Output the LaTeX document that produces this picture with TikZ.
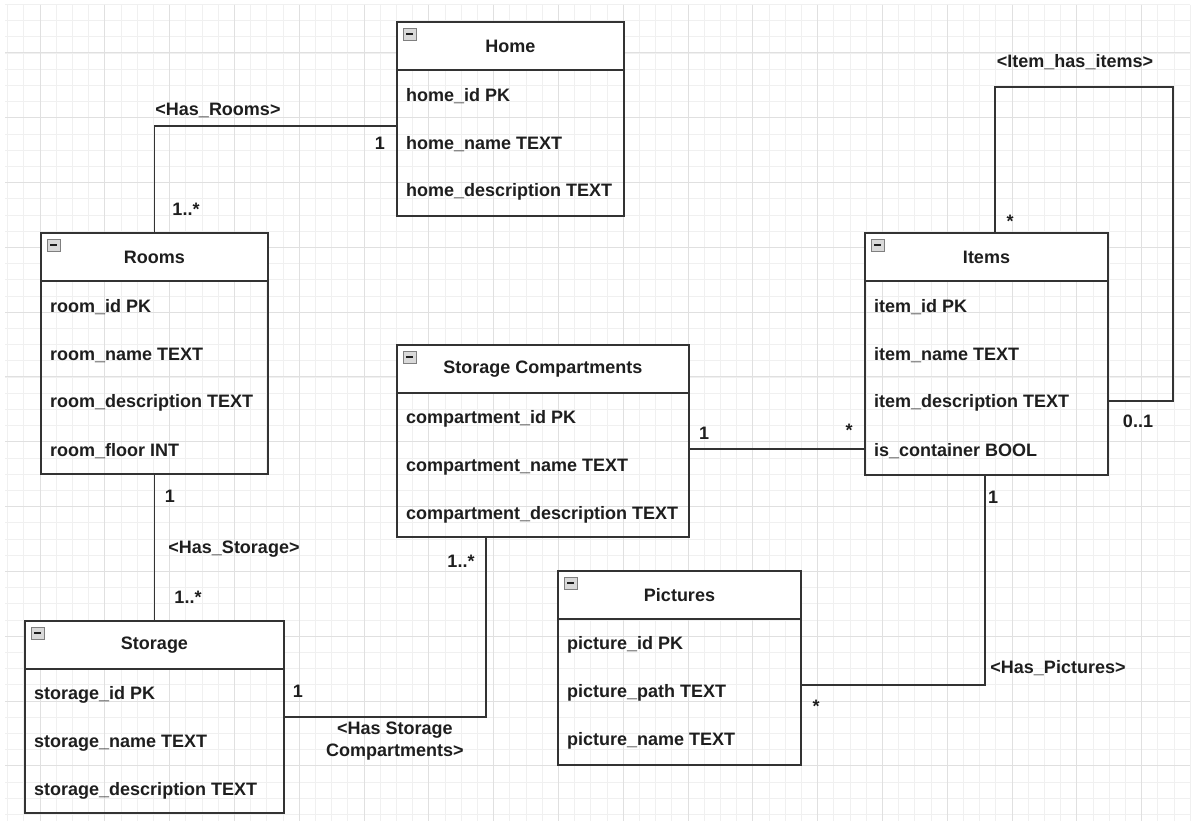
\documentclass[tikz,border=0pt]{standalone}
\usepackage{fontspec}
\setmainfont{Liberation Sans}
\usetikzlibrary{calc}

\definecolor{ink}{HTML}{1E1E1E}
\definecolor{edge}{HTML}{333333}
\definecolor{gridminor}{HTML}{F0F0F0}
\definecolor{gridmajor}{HTML}{E0E0E0}
\definecolor{iconfill}{HTML}{D9D9D9}
\definecolor{iconedge}{HTML}{7F7F7F}

\tikzset{
  txt/.style={font=\fontsize{18}{20}\selectfont\bfseries, text=ink, inner sep=0pt},
  rowtext/.style={txt, anchor=west},
  lbl/.style={txt},
  entitybox/.style={draw=edge, line width=1.5pt, inner sep=0pt, outer sep=0pt, anchor=north west},
  divider/.style={draw=edge, line width=1.5pt},
  conn/.style={draw=edge, line width=1.5pt},
  minorline/.style={draw=gridminor, line width=0.8pt},
  majorline/.style={draw=gridmajor, line width=1pt},
}

% #1 name, #2 x, #3 y, #4 width, #5 height, #6 title, #7 rows
\newcommand\entity[7]{%
  \fill[white] (#2,#3) rectangle ++(#4,48);
  \node[entitybox, minimum width=#4pt, minimum height=#5pt] (#1) at (#2,#3) {};
  \draw[divider] ($(#1.north west)+(0,48)$) -- ($(#1.north east)+(0,48)$);
  \node[txt] (#1-title) at ($(#1.north)+(0,24)$) {#6};
  \node[draw=iconedge, fill=iconfill, line width=0.8pt, minimum width=13pt, minimum height=12pt, inner sep=0pt] (#1-icon) at ($(#1.north west)+(12.5,12)$) {};
  \draw[ink, line width=1.6pt] ($(#1-icon.center)+(-3.5,0)$) -- ($(#1-icon.center)+(3.5,0)$);
  \foreach \r [count=\i] in {#7} {
    \node[rowtext] (#1-r\i) at ($(#1.north west)+(9,26+48*\i)$) {\r};
  }%
}

\begin{document}
\begin{tikzpicture}[x=1pt, y=-1pt]
  % page and background grid
  \fill[white] (0,0) rectangle (1195,826);
  \useasboundingbox (0,0) rectangle (1195,826);
  \foreach \i in {0,...,73} {\draw[minorline] ({7.6+16.2*\i},5) -- ({7.6+16.2*\i},821);}
  \foreach \j in {0,...,50} {\draw[minorline] (5,{4.4+16.2*\j}) -- (1190,{4.4+16.2*\j});}
  \foreach \i in {0,...,17} {\draw[majorline] ({40+64.8*\i},5) -- ({40+64.8*\i},821);}
  \foreach \j in {0,...,11} {\draw[majorline] (5,{53+64.8*\j}) -- (1190,{53+64.8*\j});}

  % entities
  \entity{home}{397}{22}{227}{194}{Home}{home\_id PK, home\_name TEXT, home\_description TEXT}
  \entity{rooms}{41}{233}{227}{241}{Rooms}{room\_id PK, room\_name TEXT, room\_description TEXT, room\_floor INT}
  \entity{comp}{397}{345}{292}{192}{Storage Compartments}{compartment\_id PK, compartment\_name TEXT, compartment\_description TEXT}
  \entity{items}{865}{233}{243}{242}{Items}{item\_id PK, item\_name TEXT, item\_description TEXT, is\_container BOOL}
  \entity{storage}{25}{621}{259}{192}{Storage}{storage\_id PK, storage\_name TEXT, storage\_description TEXT}
  \entity{pics}{558}{571}{243}{194}{Pictures}{picture\_id PK, picture\_path TEXT, picture\_name TEXT}

  % relationships
  \coordinate (loopcorner) at (1173,87);
  \draw[conn] ($(home.north west)+(0,104)$) -| (rooms.north);
  \draw[conn] (rooms.south) -- (storage.north);
  \draw[conn] (storage.east) -| ($(comp.south west)+(89,0)$);
  \draw[conn] ($(comp.east)+(0,8)$) -- ($(items.west)+(0,95)$);
  \draw[conn] ($(items.north)+(8.5,0)$) |- (loopcorner) |- ($(items.east)+(0,47)$);
  \draw[conn] ($(items.south)+(-1.5,0)$) |- ($(pics.east)+(0,17)$);

  % relationship names and multiplicities
  \node[lbl] (l-hasrooms) at (218,110) {<Has\_Rooms>};
  \node[lbl] (m-home) at (380,143) {1};
  \node[lbl] (m-rooms) at (186,209) {1..*};
  \node[lbl] (m-rooms2) at (170,496) {1};
  \node[lbl] (l-hasstorage) at (234,549) {<Has\_Storage>};
  \node[lbl] (m-storage) at (188,597) {1..*};
  \node[lbl] (m-storage2) at (298,691) {1};
  \node[lbl] (m-comp) at (461,561) {1..*};
  \node[lbl, align=center] (l-hascomp) at (395,741) {<Has Storage\\[2pt]Compartments>};
  \node[lbl] (m-comp2) at (704,433) {1};
  \node[lbl] (m-items) at (849,430) {*};
  \node[lbl] (l-itemloop) at (1075,62) {<Item\_has\_items>};
  \node[lbl] (m-loop1) at (1010,221) {*};
  \node[lbl] (m-loop2) at (1138,421) {0..1};
  \node[lbl] (m-items2) at (993,497) {1};
  \node[lbl] (l-haspics) at (1058,668) {<Has\_Pictures>};
  \node[lbl] (m-pics) at (816,706) {*};
\end{tikzpicture}
\end{document}
